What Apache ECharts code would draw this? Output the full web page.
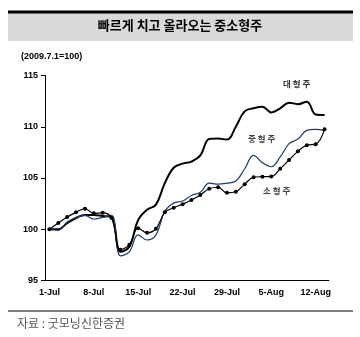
<!DOCTYPE html>
<html>
<head>
<meta charset="utf-8">
<script src="https://cdn.jsdelivr.net/npm/echarts@6/dist/echarts.min.js"></script>
<style>
  html, body { margin: 0; padding: 0; background: #fff; }
  #chart { width: 360px; height: 337px; }
</style>
</head>
<body>
<div id="chart"></div>
<script>
// Trading days, 1 Jul – 13 Aug 2009
const days = [
  '1-Jul', '2-Jul', '3-Jul', '6-Jul', '7-Jul', '8-Jul', '9-Jul', '10-Jul',
  '13-Jul', '14-Jul', '15-Jul', '16-Jul', '17-Jul', '20-Jul', '21-Jul', '22-Jul',
  '23-Jul', '24-Jul', '27-Jul', '28-Jul', '29-Jul', '30-Jul', '31-Jul',
  '3-Aug', '4-Aug', '5-Aug', '6-Aug', '7-Aug', '10-Aug', '11-Aug', '12-Aug', '13-Aug'
];

// Index levels (2009.7.1 = 100)
const largeCap = [
  100.0, 100.0, 100.6, 101.1, 101.4, 101.4, 101.3, 101.2,
  97.8, 98.3, 100.9, 101.9, 102.4, 104.5, 106.0, 106.4,
  106.6, 107.2, 108.8, 108.85, 108.75, 110.0, 111.5,
  111.8, 111.95, 111.4, 111.8, 112.35, 112.2, 112.45, 111.2, 111.15
];
const midCap = [
  100.0, 99.9, 100.7, 101.15, 101.35, 101.0, 101.15, 101.35,
  97.4, 97.8, 99.45, 98.95, 99.45, 101.75, 102.55, 102.75,
  103.3, 103.6, 104.5, 104.4, 104.5, 104.7, 105.9,
  107.2, 106.5, 106.1, 107.05, 108.35, 108.8, 109.65, 109.75, 109.65
];
const smallCap = [
  100.0, 100.6, 101.2, 101.65, 102.0, 101.55, 101.6, 101.1,
  98.0, 98.5, 100.1, 99.66, 100.05, 101.65, 102.1, 102.45,
  102.85, 103.35, 103.95, 104.1, 103.55, 103.66, 104.4,
  105.07, 105.13, 105.15, 105.9, 106.76, 107.6, 108.2, 108.3, 109.75
];

const yTicks = { min: 95, max: 115, step: 5 };

const latin = 'Arial, "Liberation Sans", sans-serif';
const hangul = '"Noto Sans CJK KR", sans-serif';

const chart = echarts.init(document.getElementById('chart'), null, { renderer: 'canvas' });

chart.setOption({
  animation: false,
  backgroundColor: '#ffffff',
  grid: { left: 45, right: 31, top: 75.5, bottom: 56.5, containLabel: false },
  xAxis: {
    type: 'category',
    data: days,
    boundaryGap: true,
    axisLine: { lineStyle: { color: '#000', width: 1 } },
    axisTick: { interval: 4, length: 4, lineStyle: { color: '#000' } },
    axisLabel: {
      interval: 4, margin: 8, color: '#000',
      fontFamily: latin, fontSize: 9, fontWeight: 'bold'
    },
    splitLine: { show: false }
  },
  yAxis: {
    type: 'value',
    min: yTicks.min, max: yTicks.max, interval: yTicks.step,
    axisLine: { show: true, lineStyle: { color: '#000', width: 1 } },
    axisTick: { show: true, length: 4, lineStyle: { color: '#000' } },
    axisLabel: {
      margin: 7, color: '#000',
      fontFamily: latin, fontSize: 9, fontWeight: 'bold'
    },
    splitLine: { show: false }
  },
  series: [
    {
      name: '대형주', type: 'line', data: largeCap, smooth: 0.4,
      showSymbol: false, symbol: 'none',
      lineStyle: { color: '#000', width: 2 }
    },
    {
      name: '중형주', type: 'line', data: midCap, smooth: 0.4,
      showSymbol: false, symbol: 'none',
      lineStyle: { color: '#1f3a68', width: 1.2 }
    },
    {
      name: '소형주', type: 'line', data: smallCap, smooth: 0.4,
      symbol: 'circle', symbolSize: 4, showSymbol: true,
      itemStyle: { color: '#000' },
      lineStyle: { color: '#000', width: 1.2 }
    }
  ],
  graphic: [
    // header band with heavy top rule
    { type: 'rect', left: 8, top: 13, shape: { width: 345, height: 28 }, style: { fill: '#d9d9d9' } },
    { type: 'rect', left: 8, top: 10.5, shape: { width: 345, height: 3 }, style: { fill: '#000' } },
    {
      type: 'text', left: 'center', top: 19,
      style: { text: '빠르게 치고 올라오는 중소형주', font: 'bold 13px ' + hangul, fill: '#000' }
    },
    {
      type: 'text', left: 21, top: 52,
      style: { text: '(2009.7.1=100)', font: 'bold 9px ' + latin, fill: '#000' }
    },
    // series captions
    { type: 'text', left: 283, top: 80, style: { text: '대 형 주', font: 'bold 8.5px ' + hangul, fill: '#333' } },
    { type: 'text', left: 248, top: 135, style: { text: '중 형 주', font: 'bold 8.5px ' + hangul, fill: '#444' } },
    { type: 'text', left: 263, top: 187, style: { text: '소 형 주', font: 'bold 8.5px ' + hangul, fill: '#444' } },
    // footer rule and source note
    { type: 'rect', left: 8, top: 310.5, shape: { width: 345, height: 1 }, style: { fill: '#000' } },
    {
      type: 'text', left: 17, top: 317,
      style: { text: '자료 : 굿모닝신한증권', font: '12px ' + hangul, fill: '#555' }
    }
  ]
});
</script>
</body>
</html>
